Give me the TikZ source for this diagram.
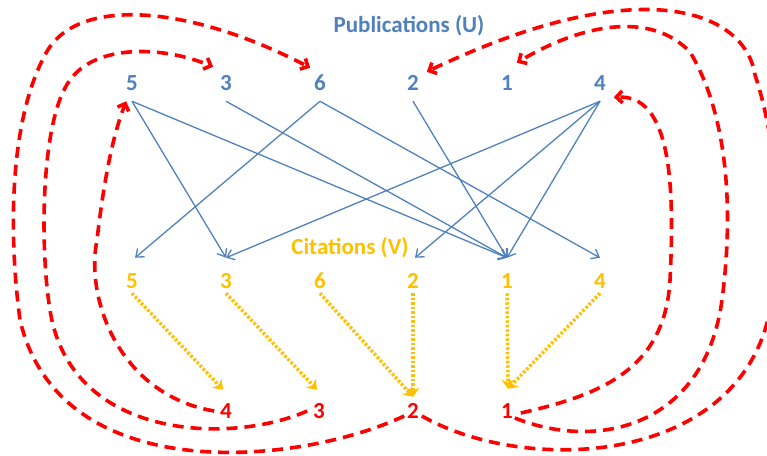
\documentclass[tikz,border=0pt]{standalone}
\usepackage{fontspec}
\setmainfont{Carlito}
\usetikzlibrary{arrows.meta,calc}
\definecolor{ublue}{HTML}{4F81BD}
\definecolor{vyel}{HTML}{FFC000}
\definecolor{rred}{HTML}{FF0000}
\begin{document}
\begin{tikzpicture}[x=1pt,y=-1pt,
  lbl/.style={font=\fontsize{23}{27}\selectfont\bfseries, inner sep=0pt, outer sep=0pt, text height=14.5pt, text depth=0pt},
  unode/.style={lbl, text=ublue, outer ysep=11pt},
  vnode/.style={lbl, text=vyel, outer ysep=16pt},
  rnode/.style={lbl, text=rred},
  ttl/.style={font=\fontsize{23}{27}\selectfont\bfseries, inner sep=0pt},
  bedge/.style={draw=ublue, line width=1.3pt, -{Straight Barb[length=7pt,width=11pt]}},
  yedge/.style={draw=vyel, line width=3.5pt, dash pattern=on 2.5pt off 2pt, -{Stealth[length=9pt,width=13pt]}},
  redge/.style={draw=rred, line width=3.6pt, dash pattern=on 11pt off 7pt, -{Straight Barb[length=6pt,width=12pt]}}
]
\useasboundingbox (0,0) rectangle (767,455);
\clip (0,0) rectangle (767,455);

% titles
\node[ttl, text=ublue] (tU) at (409,26) {Publications (U)};
\node[ttl, text=vyel] (tV) at (350,248) {Citations (V)};

% publications
\node[unode] (U5) at (132,83) {5};
\node[unode] (U3) at (226,83) {3};
\node[unode] (U6) at (320,83) {6};
\node[unode] (U2) at (413,83) {2};
\node[unode] (U1) at (507,83) {1};
\node[unode] (U4) at (600,83) {4};

% citations
\node[vnode] (V5) at (132,281) {5};
\node[vnode] (V3) at (226,281) {3};
\node[vnode] (V6) at (320,281) {6};
\node[vnode] (V2) at (413,281) {2};
\node[vnode] (V1) at (507,281) {1};
\node[vnode] (V4) at (600,281) {4};

% ranks
\node[rnode] (R4) at (226,411) {4};
\node[rnode] (R3) at (319,411) {3};
\node[rnode] (R2) at (413,411) {2};
\node[rnode] (R1) at (507,411) {1};

% blue citation edges
\draw[bedge] (U5.south) -- (V3.north);
\draw[bedge] (U5.south) -- (V1.north);
\draw[bedge] (U3.south) -- (V1.north);
\draw[bedge] (U6.south) -- ([xshift=3pt]V5.north);
\draw[bedge] (U6.south) -- (V4.north);
\draw[bedge] (U2.south) -- (V1.north);
\draw[bedge] (U4.south) -- (V3.north);
\draw[bedge] (U4.south) -- ([xshift=2pt]V2.north);
\draw[bedge] (U4.south) -- (V1.north);

% yellow dotted
\draw[yedge] ([yshift=11pt]V5.south) -- ([xshift=-3pt,yshift=14pt]R4.north);
\draw[yedge] ([yshift=11pt]V3.south) -- ([xshift=-2pt,yshift=14pt]R3.north);
\draw[yedge] ([yshift=11pt]V6.south) -- ([yshift=7pt]R2.north);
\draw[yedge] ([yshift=11pt]V2.south) -- ([yshift=7pt]R2.north);
\draw[yedge] ([yshift=11pt]V1.south) -- ([xshift=1pt,yshift=15pt]R1.north);
\draw[yedge] ([yshift=11pt]V4.south) -- ([xshift=1pt,yshift=15pt]R1.north);

% red dashed curves
\draw[redge] ([xshift=-6pt]R4.west) .. controls (120,395) and (85,300) .. (97,240)
  .. controls (105,170) and (115,130) .. (U5.south west);
\draw[redge] ([xshift=-6pt]R3.west) .. controls (230,445) and (70,440) .. (50,310)
  .. controls (40,250) and (40,120) .. (70,80)
  .. controls (95,45) and (160,45) .. ([xshift=-7pt,yshift=-2pt]U3.north west);
\draw[redge] ([xshift=-3pt,yshift=-5pt]R2.west) .. controls (300,465) and (60,490) .. (20,320)
  .. controls (8,230) and (10,120) .. (45,55)
  .. controls (75,-5) and (190,5) .. ([xshift=-4pt,yshift=-3pt]U6.north west);
\draw[redge] ([xshift=3pt,yshift=-5pt]R2.east) .. controls (520,472) and (720,468) .. (765,330)
  .. controls (785,260) and (780,150) .. (755,75)
  .. controls (745,10) and (640,-30) .. ([xshift=8pt,yshift=-7pt]U2.north east);
\draw[redge] ([xshift=2pt,yshift=-7pt]R1.east) .. controls (600,452) and (705,425) .. (722,300)
  .. controls (735,200) and (725,110) .. (690,52)
  .. controls (650,10) and (580,25) .. ([xshift=4pt,yshift=2pt]U1.north east);
\draw[redge] ([xshift=8pt,yshift=-2pt]R1.east) .. controls (600,395) and (665,370) .. (670,280)
  .. controls (675,180) and (670,95) .. ([xshift=8pt,yshift=4pt]U4.south east);
\end{tikzpicture}
\end{document}
